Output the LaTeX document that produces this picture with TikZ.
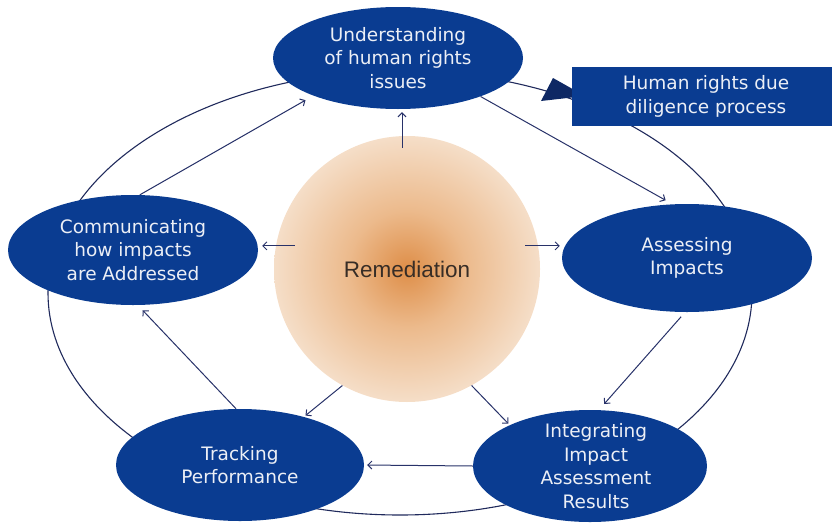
\documentclass[tikz,border=0pt]{standalone}
\usepackage{fontspec}
\setmainfont{DejaVu Sans}
\newfontfamily\remfont{Liberation Sans}
\usetikzlibrary{shapes.geometric,arrows.meta}
\definecolor{nodeblue}{RGB}{10,60,145}
\definecolor{ringc}{RGB}{32,42,92}
\definecolor{arrc}{RGB}{40,50,105}
\definecolor{tric}{RGB}{14,40,100}
\definecolor{txtc}{RGB}{236,239,246}
\definecolor{remtxt}{RGB}{55,45,38}
\definecolor{orA}{RGB}{222,142,72}
\definecolor{orB}{RGB}{236,186,140}
\definecolor{orC}{RGB}{245,222,200}
\definecolor{orD}{RGB}{250,238,226}
\pgfdeclareradialshading{remshade}{\pgfpoint{0bp}{0bp}}{color(0bp)=(orA); color(11bp)=(orB); color(25bp)=(orC); color(33.5bp)=(orD); color(35.5bp)=(white); color(50bp)=(white)}
\begin{document}
\begin{tikzpicture}[x=1pt,y=-1pt,
  blob/.style={ellipse, fill=nodeblue, inner sep=0pt},
  lbl/.style={text=txtc, align=center, inner sep=0pt, font=\fontsize{18.5}{23.5}\selectfont},
  hrbox/.style={rectangle, fill=nodeblue, inner sep=0pt, text=txtc, align=center, font=\fontsize{18.5}{23.5}\selectfont},
  ring/.style={draw=ringc, line width=1.1pt},
  arr/.style={draw=arrc, line width=1pt, -{Straight Barb[length=4pt,width=8pt]}}
]
\useasboundingbox (0,0) rectangle (832,522);
% outer cycle
\draw[ring] (400,293) ellipse [x radius=352pt, y radius=222pt];
\fill[tric] (541,101) -- (553,78) -- (585,96) -- cycle;
% box
\node[hrbox, minimum width=260pt, minimum height=59pt] (hr) at (702,96.5) {\hspace*{8pt}Human rights due\\\hspace*{8pt}diligence process};
% centre
\node[circle, minimum size=266pt, inner sep=0pt, shading=remshade, text=remtxt, font=\remfont\fontsize{22.5}{27}\selectfont] (rem) at (407,269) {Remediation};
% stages
\node[blob, minimum width=250pt, minimum height=102pt] (top) at (398,58) {};
\node[lbl] at (top) {Understanding\\of human rights\\issues};
\node[blob, minimum width=250pt, minimum height=108pt] (ass) at (687,258) {};
\node[lbl] at (ass) {Assessing\\Impacts};
\node[blob, minimum width=234pt, minimum height=112pt] (int) at (590,466) {};
\node[lbl] at ([xshift=6pt]int.center) {Integrating\\Impact\\Assessment\\Results};
\node[blob, minimum width=248pt, minimum height=112pt] (trk) at (240,465) {};
\node[lbl] at (trk) {Tracking\\Performance};
\node[blob, minimum width=250pt, minimum height=110pt] (comm) at (133,250) {};
\node[lbl] at (comm) {Communicating\\how impacts\\are Addressed};
% cycle arrows
\draw[arr, shorten >=8pt] (top.-25) -- (ass.105);
\draw[arr, shorten <=6pt, shorten >=8pt] (ass.-92) -- (int.81);
\draw[arr, shorten >=3pt] (int.west) -- (trk.east);
\draw[arr, shorten >=7pt] (trk.94) -- (comm.-85);
\draw[arr, shorten >=9pt] (comm.83) -- (top.204);
% remediation arrows
\draw[arr, shorten >=3pt] ([xshift=-5pt,yshift=-12pt]rem.north) -- ([xshift=4pt]top.south);
\draw[arr, shorten >=4pt] ([xshift=19pt]rem.170) -- (rem.170 -| comm.east);
\draw[arr, shorten >=2pt] ([xshift=-13pt]rem.10) -- (rem.10 -| ass.west);
\draw[arr, shorten >=2pt] (rem.-119) -- (trk.37);
\draw[arr, shorten >=2pt] (rem.-61) -- (int.153);
\end{tikzpicture}
\end{document}
